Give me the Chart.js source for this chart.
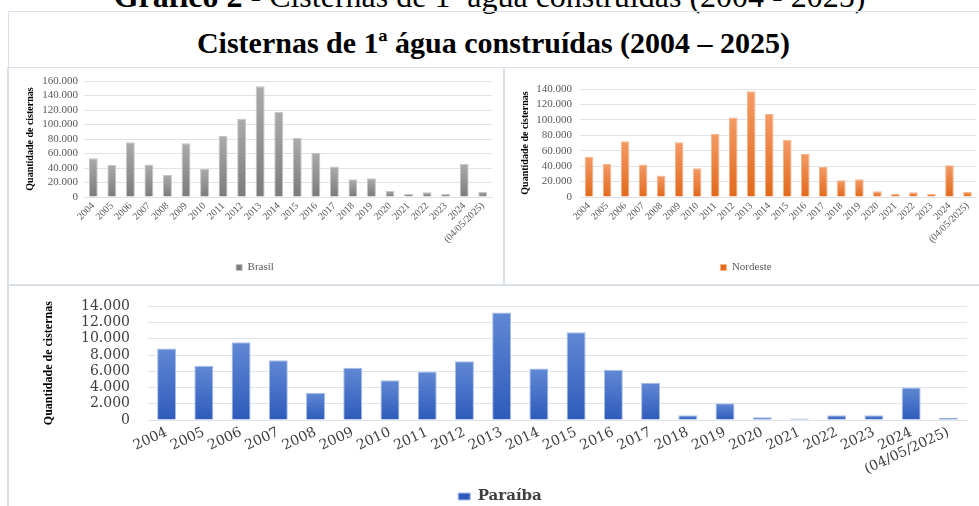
<!DOCTYPE html>
<html lang="pt-BR">
<head>
<meta charset="utf-8">
<title>Cisternas de 1ª água construídas (2004 – 2025)</title>
<script src="https://cdn.jsdelivr.net/npm/chart.js@4.4.1/dist/chart.umd.min.js"></script>
<style>
  html, body { margin: 0; padding: 0; background: #fff; }
  body { width: 979px; height: 506px; position: relative; overflow: hidden;
         font-family: "Liberation Serif", "Times New Roman", serif; color: #000; }
  .legenda-fig { position: absolute; left: 0; top: -20px; width: 979px; text-align: center;
                 font-size: 32px; line-height: 32px; white-space: nowrap; }
  .moldura { position: absolute; left: 8px; top: 11px; width: 1000px; height: 600px;
             border: 1px solid #dbe0e8; }
  .titulo { position: absolute; left: 8px; top: 28px; width: 971px; text-align: center;
            font-weight: bold; font-size: 30px; line-height: 30px; white-space: nowrap; }
  .painel { position: absolute; outline: 1px solid #dbe0e8; }
  .painel canvas { position: absolute; left: 0; top: 0; }
</style>
</head>
<body>
<div class="legenda-fig"><b>Gráfico 2 -</b> Cisternas de 1ª água construídas (2004 - 2025)</div>
<div class="moldura"></div>
<div class="titulo">Cisternas de 1ª água construídas (2004 – 2025)</div>

<div class="painel" style="left:8px; top:68px; width:496px; height:217px;">
  <canvas id="graficoBrasil" width="496" height="217"></canvas>
</div>
<div class="painel" style="left:504px; top:68px; width:500px; height:217px;">
  <canvas id="graficoNordeste" width="475" height="217"></canvas>
</div>
<div class="painel" style="left:8px; top:285px; width:1000px; height:300px;">
  <!-- sobe 5px: o padding dos rótulos do eixo y empurra a área do gráfico para baixo -->
  <canvas id="graficoParaiba" width="971" height="234" style="top:-5px"></canvas>
</div>

<script>
// Cisternas de 1ª água construídas por ano
const anos = ['2004', '2005', '2006', '2007', '2008', '2009', '2010', '2011', '2012', '2013', '2014',
    '2015', '2016', '2017', '2018', '2019', '2020', '2021', '2022', '2023', '2024', '(04/05/2025)'];

const brasil = [53300, 44100, 75400, 45000, 30300, 74000, 39000, 84000, 108000, 152600, 117700,
    81800, 61000, 42000, 24400, 25700, 8700, 4000, 6400, 4000, 46000, 7400];

const nordeste = [51900, 42800, 72200, 42000, 28000, 70900, 37200, 81700, 103000, 137000, 107600,
    74300, 55700, 38900, 21600, 22900, 7300, 3900, 6000, 4300, 41000, 6500];

const paraiba = [8800, 6700, 9580, 7370, 3360, 6430, 4900, 5980, 7250, 13260, 6350,
    10800, 6180, 4580, 570, 2050, 330, 200, 600, 570, 4000, 280];

// limites dos eixos: [máximo, passo]
const eixoBrasil = [160000, 20000];
const eixoNordeste = [140000, 20000];
const eixoParaiba = [14000, 2000];

const corGrade = '#dfe4ec';

// separador de milhar com ponto (160.000)
function milhar(v) {
    return String(v).replace(/\B(?=(\d{3})+(?!\d))/g, '.');
}

// gradiente vertical em cada barra, do topo para a base
function gradiente(cores) {
    return function(ctx) {
        const chart = ctx.chart;
        if (ctx.type !== 'data' || !chart.chartArea) return cores[2];
        const y = chart.scales.y;
        const topo = y.getPixelForValue(ctx.parsed.y);
        const base = y.getPixelForValue(0);
        const g = chart.ctx.createLinearGradient(0, topo, 0, base + 0.01);
        g.addColorStop(0, cores[0]);
        g.addColorStop(1, cores[1]);
        return g;
    };
}

function criarGrafico(id, rotulo, valores, eixo, p) {
    return new Chart(document.getElementById(id), {
        type: 'bar',
        data: {
            labels: anos,
            datasets: [{
                label: rotulo,
                data: valores,
                backgroundColor: gradiente(p.cores),
                borderColor: p.borda,
                borderWidth: 1,
                barPercentage: p.barra,
                categoryPercentage: 1
            }]
        },
        options: {
            responsive: false,
            animation: false,
            layout: { padding: p.padding },
            plugins: {
                tooltip: { enabled: false },
                legend: {
                    position: 'bottom',
                    labels: {
                        boxWidth: p.caixa[0],
                        boxHeight: p.caixa[1],
                        padding: p.legendaPad,
                        color: p.corTexto,
                        font: p.fonteLegenda
                    }
                }
            },
            scales: {
                x: {
                    grid: { display: false, drawTicks: false },
                    border: { color: corGrade },
                    ticks: {
                        autoSkip: false,
                        minRotation: p.rotacao,
                        maxRotation: p.rotacao,
                        padding: p.xPad,
                        color: p.corTexto,
                        font: p.fonteX
                    },
                    afterFit: function(s) { s.height = p.alturaX; }
                },
                y: {
                    min: 0,
                    max: eixo[0],
                    border: { display: false },
                    grid: { color: corGrade, drawTicks: false },
                    ticks: {
                        stepSize: eixo[1],
                        autoSkip: false,
                        padding: p.yPad,
                        color: p.corTexto,
                        font: p.fonteY,
                        callback: function(v) { return milhar(v); }
                    },
                    title: {
                        display: true,
                        text: 'Quantidade de cisternas',
                        color: '#000',
                        font: p.fonteTitulo,
                        padding: { top: p.tituloPad, bottom: 0 }
                    },
                    afterFit: function(s) { s.width = p.larguraY; }
                }
            }
        }
    });
}

const serif = '"Liberation Serif", "Times New Roman", serif';
const serifLargo = '"DejaVu Serif", serif';

const estiloPequeno = {
    barra: 0.48,
    caixa: [6, 6],
    legendaPad: 8,
    corTexto: '#595959',
    fonteLegenda: { family: serif, size: 11 },
    fonteX: { family: serif, size: 10 },
    fonteY: { family: serif, size: 11 },
    fonteTitulo: { family: serif, size: 10, weight: 'bold' },
    rotacao: 45,
    xPad: 3,
    yPad: 8,
    alturaX: 57,
    larguraY: 66
};

criarGrafico('graficoBrasil', 'Brasil', brasil, eixoBrasil, Object.assign({}, estiloPequeno, {
    cores: ['#ababab', '#7b7b7b', '#a0a0a0'],
    borda: '#c4c4c4',
    yPad: 6,
    padding: { left: 10, right: 12, top: 13, bottom: 2 },
    tituloPad: 6
}));

criarGrafico('graficoNordeste', 'Nordeste', nordeste, eixoNordeste, Object.assign({}, estiloPequeno, {
    cores: ['#f39a66', '#e2691b', '#ed7d31'],
    borda: '#f7b58a',
    padding: { left: 10, right: 1, top: 21, bottom: 2 },
    tituloPad: 5
}));

criarGrafico('graficoParaiba', 'Paraíba', paraiba, eixoParaiba, {
    cores: ['#6088d4', '#2e5bbb', '#4472c4'],
    borda: '#a9bfe8',
    barra: 0.51,
    caixa: [12, 7],
    legendaPad: 6,
    corTexto: '#404040',
    fonteLegenda: { family: serifLargo, size: 15, weight: 'bold' },
    fonteX: { family: serifLargo, size: 14 },
    fonteY: { family: serifLargo, size: 14 },
    fonteTitulo: { family: serif, size: 12, weight: 'bold' },
    rotacao: 25,
    xPad: 4,
    yPad: 18,
    alturaX: 63,
    larguraY: 115,
    padding: { left: 25, right: 12, top: 17, bottom: 0 },
    tituloPad: 9
});
</script>
</body>
</html>
